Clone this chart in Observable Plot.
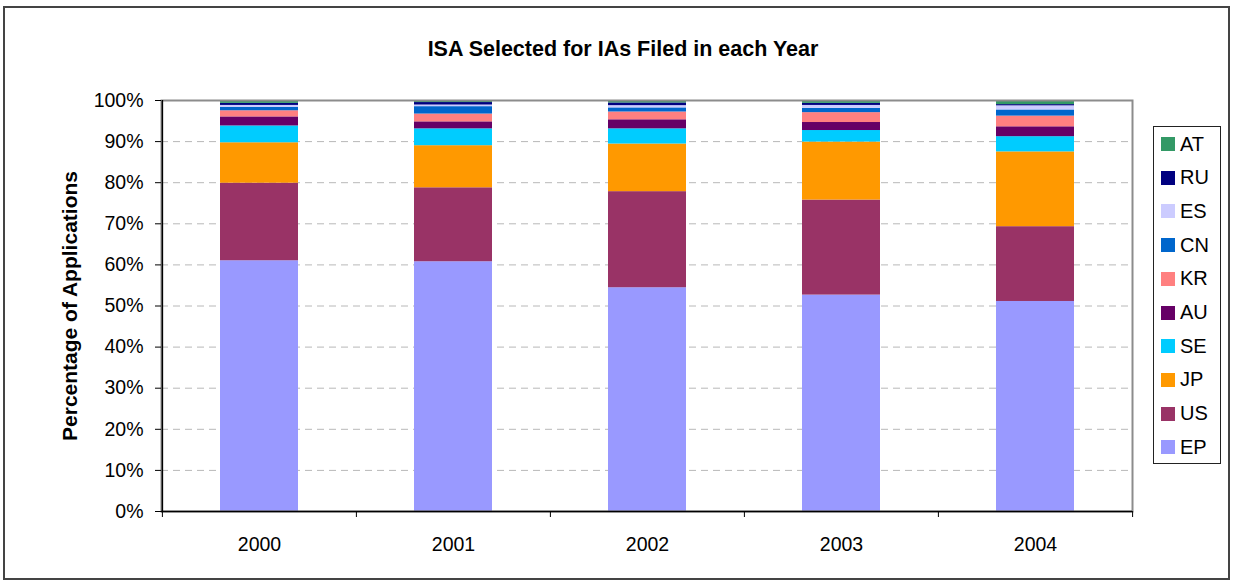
<!DOCTYPE html>
<html>
<head>
<meta charset="utf-8">
<script src="https://cdn.jsdelivr.net/npm/d3@7"></script>
<script src="https://cdn.jsdelivr.net/npm/@observablehq/plot@0.6"></script>
<style>
  body { margin: 0; background: #fff; font-family: "Liberation Sans", Arial, sans-serif; }
  #wrap { position: relative; width: 1236px; height: 585px; overflow: hidden; }
  #border { position: absolute; left: 3px; top: 6px; width: 1227px; height: 574px; border: 2px solid #444; box-sizing: border-box; }
  #title { position: absolute; left: 5px; width: 1236px; top: 39px; line-height: 1; text-align: center; font-weight: bold; font-size: 21.5px; color: #000; }
  #ytitle { position: absolute; left: 69px; top: 306px; line-height: 1; transform: translate(-50%, -50%) rotate(-90deg); white-space: nowrap; font-weight: bold; font-size: 21px; color: #000; }
  #chart { position: absolute; left: 0; top: 0; }
  #legend { position: absolute; left: 1153px; top: 126px; width: 68px; height: 338px; border: 1px solid #222; box-sizing: border-box; background: #fff; }
  .item { position: absolute; left: 7px; height: 20px; display: flex; align-items: center; font-size: 20px; color: #000; }
  .sw { width: 14px; height: 14px; margin-right: 5px; }
</style>
</head>
<body>
<div id="wrap">
  <div id="border"></div>
  <div id="chart"></div>
  <div id="title">ISA Selected for IAs Filed in each Year</div>
  <div id="ytitle">Percentage of Applications</div>
  <div id="legend"></div>
</div>
<script>
const years = ["2000", "2001", "2002", "2003", "2004"];
const series = ["EP", "US", "JP", "SE", "AU", "KR", "CN", "ES", "RU", "AT"];
const colors = ["#9999FF", "#993366", "#FF9900", "#00CCFF", "#660066", "#FF8080", "#0066CC", "#CCCCFF", "#000080", "#339966"];
// percentage shares per year, in series order
const EP = [61.1, 60.8, 54.5, 52.6, 51.1];
const US = [18.9, 18.0, 23.4, 23.1, 18.2];
const JP = [9.85, 10.25, 11.6, 14.1, 18.2];
const SE = [4.1, 4.1, 3.7, 2.8, 3.7];
const AU = [2.2, 1.7, 2.2, 1.95, 2.4];
const KR = [1.5, 1.9, 1.9, 2.4, 2.6];
const CN = [0.8, 1.8, 1.0, 1.05, 1.5];
const ES = [0.5, 0.4, 0.55, 0.7, 1.0];
const RU = [0.5, 0.6, 0.65, 0.5, 0.3];
const AT = [0.7, 0.5, 0.6, 0.7, 1.0];
const yTicks = [0, 0.1, 0.2, 0.3, 0.4, 0.5, 0.6, 0.7, 0.8, 0.9, 1];

const valuesBySeries = {EP, US, JP, SE, AU, KR, CN, ES, RU, AT};
const data = [];
years.forEach((yr, i) => {
  series.forEach(s => data.push({year: yr, series: s, value: valuesBySeries[s][i]}));
});

const W = 1236, H = 585, mL = 161, mR = 104, mT = 100, mB = 74;
const step = (W - mL - mR) / years.length;

const chart = Plot.plot({
  width: W,
  height: H,
  marginLeft: mL,
  marginRight: mR,
  marginTop: mT,
  marginBottom: mB,
  style: {fontFamily: "'Liberation Sans', Arial, sans-serif", fontSize: "19.5px", color: "#000", background: "transparent"},
  x: {domain: years, paddingInner: 0.6, paddingOuter: 0.3, label: null},
  y: {domain: [0, 1], label: null},
  color: {domain: series, range: colors},
  marks: [
    Plot.gridY(yTicks.filter(t => t > 0 && t < 1), {stroke: "#b8b8b8", strokeOpacity: 1, strokeDasharray: "7,5"}),
    Plot.barY(data, Plot.stackY({x: "year", y: "value", fill: "series", offset: "normalize", order: null})),
    Plot.frame({stroke: "#8c8c8c", strokeWidth: 2}),
    Plot.ruleX([0], {x: () => years[0], dx: -step / 2, stroke: "#000", strokeWidth: 1.5}),
    Plot.ruleY([0], {stroke: "#000", strokeWidth: 1.5}),
    Plot.axisY(yTicks, {tickFormat: d => Math.round(d * 100) + "%", tickSize: 6, tickPadding: 12, fontSize: 19.5, stroke: "#000"}),
    Plot.axisX({tickSize: 0, tickPadding: 26, fontSize: 19.5}),
    Plot.axisX({tickSize: 6, tickFormat: () => "", dx: -step / 2, stroke: "#000"}),
    Plot.axisX([years[years.length - 1]], {tickSize: 6, tickFormat: () => "", dx: step / 2, stroke: "#000"})
  ]
});
document.getElementById("chart").appendChild(chart);

const legend = document.getElementById("legend");
const order = series.slice().reverse();
order.forEach((s, i) => {
  const it = document.createElement("div");
  it.className = "item";
  it.style.top = (7 + i * 33.7) + "px";
  const sw = document.createElement("div");
  sw.className = "sw";
  sw.style.background = colors[series.indexOf(s)];
  const tx = document.createElement("span");
  tx.textContent = s;
  it.appendChild(sw);
  it.appendChild(tx);
  legend.appendChild(it);
});
</script>
</body>
</html>
